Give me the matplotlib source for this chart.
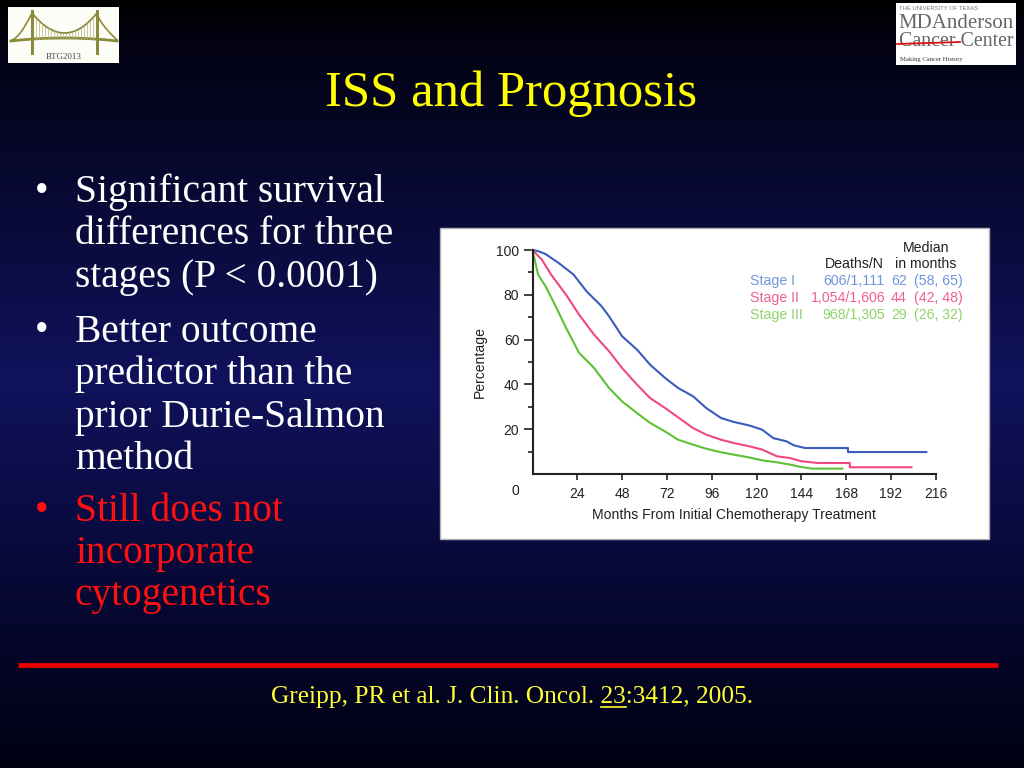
import numpy as np
import matplotlib.pyplot as plt
from matplotlib.patches import Rectangle

# Kaplan-Meier curves (months, percent surviving)
stage1_months = [0, 3, 7, 14, 22, 29, 37, 41, 48, 56, 63, 71, 78, 86, 93, 101,
                 108, 116, 123, 129, 136, 140, 146, 169, 169, 211]
stage1_pct = [100, 99.5, 98.2, 94.2, 89, 81.5, 74.9, 70.4, 61.5, 55.5, 48.8, 42.9,
              38.4, 34.7, 29.5, 25, 23.2, 21.7, 19.8, 16, 14.6, 12.8, 11.6, 11.6, 9.8, 9.8]

stage2_months = [0, 5, 10, 18, 25, 33, 41, 48, 56, 63, 71, 78, 86, 93, 101, 108,
                 116, 123, 131, 138, 144, 153, 170, 170, 203]
stage2_pct = [100, 95.7, 89, 80, 71.1, 62.2, 54.8, 47.3, 39.9, 33.9, 29.5, 25.3,
              20.5, 17.6, 15.3, 13.8, 12.4, 10.9, 7.9, 7.1, 5.7, 4.9, 4.9, 3.0, 3.0]

stage3_months = [0, 3, 7, 12, 18, 25, 33, 41, 48, 56, 63, 71, 78, 86, 93, 101,
                 108, 116, 123, 131, 138, 144, 150, 166]
stage3_pct = [100, 89, 83.8, 75.6, 65.2, 54, 47.3, 38.4, 32.4, 27.2, 22.8, 19,
              15.3, 13.1, 11.3, 9.7, 8.6, 7.4, 6.1, 5.2, 4.2, 3.1, 2.4, 2.4]

stage_names = ['Stage I', 'Stage II', 'Stage III']
deaths_n = ['606/1,111', '1,054/1,606', '968/1,305']
median_months = ['62', '44', '29']
median_ci = ['(58, 65)', '(42, 48)', '(26, 32)']
line_colors = ['#3a5cbc', '#f2477f', '#5cc234']
text_colors = ['#6e95dc', '#f0608c', '#8ed36a']

x_ticks = [24, 48, 72, 96, 120, 144, 168, 192, 216]
y_ticks = [20, 40, 60, 80, 100]

bullets_white = [
    ['Significant survival', 'differences for three', 'stages (P < 0.0001)'],
    ['Better outcome', 'predictor than the', 'prior Durie-Salmon', 'method'],
]
bullets_red = [['Still does not', 'incorporate', 'cytogenetics']]

SERIF = 'Liberation Serif'
SANS = 'Liberation Sans'
INK = '#222222'

fig = plt.figure(figsize=(10.24, 7.68), dpi=100)

# background axes in pixel coordinates
bg = fig.add_axes([0, 0, 1, 1])
bg.set_xlim(0, 1024)
bg.set_ylim(768, 0)
bg.axis('off')

rows = np.arange(768)
r = np.interp(rows, [0, 40, 380, 768], [0, 2, 16, 0])
g = np.interp(rows, [0, 40, 380, 768], [0, 2, 18, 0])
b = np.interp(rows, [0, 40, 380, 768], [0, 18, 92, 18])
grad = np.stack([r, g, b], axis=1)[:, None, :] / 255.0
grad = np.repeat(grad, 4, axis=1)
bg.imshow(grad, extent=[0, 1024, 768, 0], aspect='auto', zorder=0)

# title
bg.text(511, 106, 'ISS and Prognosis', color='#ffff00', fontsize=36.5,
        family=SERIF, ha='center', va='baseline')

# bullets
y = 202
for para in bullets_white:
    bg.text(42, y, '\u2022', color='white', fontsize=28, family=SERIF, ha='center', va='baseline')
    for line in para:
        bg.text(75, y, line, color='white', fontsize=28.4, family=SERIF, va='baseline')
        y += 42.5
    y += 12
y = 521
for para in bullets_red:
    bg.text(42, y, '\u2022', color='#ff1010', fontsize=28, family=SERIF, ha='center', va='baseline')
    for line in para:
        bg.text(75, y, line, color='#ff1010', fontsize=28.4, family=SERIF, va='baseline')
        y += 42

# red rule and citation
bg.plot([18, 998], [665, 665], color='#ee0000', lw=3.4, solid_capstyle='butt')
cite = 'Greipp, PR et al. J. Clin. Oncol. 23:3412, 2005.'
ct = bg.text(512, 703, cite, color='#ffff33', fontsize=18.3, family=SERIF,
             ha='center', va='baseline')

# white box behind the chart
bg.add_patch(Rectangle((440, 228), 549, 311, facecolor='white', edgecolor='#b0b0b0',
                       lw=1, zorder=2))

# logos
bg.add_patch(Rectangle((8, 7), 111, 56, facecolor='#fdfdf8', edgecolor='none', zorder=2))
olive = '#8c8a3c'
for tx in (32, 97):
    bg.plot([tx, tx], [11, 53], color=olive, lw=2.2, zorder=3)
cx = np.linspace(32, 97, 40)
bg.plot(cx, 13 + 20 * (1 - ((cx - 64.5) / 32.5) ** 2), color=olive, lw=1.3, zorder=3)
lx = np.linspace(12, 32, 12)
bg.plot(lx, 40 - 27 * ((lx - 12) / 20) ** 1.5, color=olive, lw=1.2, zorder=3)
rx = np.linspace(97, 117, 12)
bg.plot(rx, 13 + 27 * ((rx - 97) / 20) ** 0.7, color=olive, lw=1.2, zorder=3)
dx = np.linspace(11, 117, 50)
bg.plot(dx, 41 - 3 * (1 - ((dx - 64) / 53) ** 2), color=olive, lw=2, zorder=3)
for hx in np.arange(36, 96, 3):
    top = 13 + 20 * (1 - ((hx - 64.5) / 32.5) ** 2)
    bg.plot([hx, hx], [top, 39], color='#b8b67a', lw=0.5, zorder=3)
bg.text(64, 57, 'BTG2013', color='#444444', fontsize=6.5, family=SERIF,
        ha='center', va='center', zorder=4)

bg.add_patch(Rectangle((896, 3), 120, 62, facecolor='white', edgecolor='none', zorder=2))
bg.text(899, 8, 'THE UNIVERSITY OF TEXAS', color='#777777', fontsize=4.2, family=SANS,
        va='center', zorder=4)
bg.text(956, 24, 'MDAnderson', color='#666666', fontsize=15, family=SERIF,
        ha='center', va='center', zorder=4)
bg.text(956, 42, 'Cancer Center', color='#666666', fontsize=14.3, family=SERIF,
        ha='center', va='center', zorder=4)
bg.plot([897, 960], [44, 42], color='#dd1111', lw=1.3, zorder=5)
bg.text(900, 60, 'Making Cancer History', color='#333333', fontsize=4.8, family=SERIF,
        va='center', zorder=4)

# chart axes
W, H = 1024.0, 768.0
x0, x1 = 532.5, 935.7
y0, y1 = 474.0, 250.0
ax = fig.add_axes([x0 / W, 1 - y0 / H, (x1 - x0) / W, (y0 - y1) / H])
ax.set_facecolor('none')
ax.set_zorder(3)
ax.set_xlim(0, 216)
ax.set_ylim(0, 100)

for months, pct, col in zip([stage1_months, stage2_months, stage3_months],
                            [stage1_pct, stage2_pct, stage3_pct], line_colors):
    ax.plot(months, pct, color=col, lw=1.5, clip_on=False)

for side in ('top', 'right'):
    ax.spines[side].set_visible(False)
for side in ('left', 'bottom'):
    ax.spines[side].set_linewidth(1.5)
    ax.spines[side].set_color(INK)

ax.set_xticks(x_ticks)
ax.set_yticks(y_ticks)
ax.set_yticks([10, 30, 50, 70, 90], minor=True)
ax.tick_params(axis='both', which='major', width=1.2, color=INK,
               labelsize=10, labelcolor=INK)
ax.tick_params(axis='y', which='major', length=6.5, pad=3)
ax.tick_params(axis='y', which='minor', length=3.6, width=1.2, color=INK)
ax.tick_params(axis='x', which='major', length=4.3, pad=5)
for lab in ax.get_xticklabels() + ax.get_yticklabels():
    lab.set_family(SANS)

ax.set_xlabel('Months From Initial Chemotherapy Treatment', fontsize=10.1,
              family=SANS, color=INK, labelpad=5)
ax.set_ylabel('Percentage', fontsize=10.1, family=SANS, color=INK, labelpad=7)

# corner zero label and the little table
bg.text(515, 491, '0', fontsize=10, family=SANS, color=INK,
        ha='center', va='center', zorder=4)
bg.text(926, 248, 'Median', fontsize=10.2, family=SANS, color=INK,
        ha='center', va='center', zorder=4)
bg.text(926, 264, 'in months', fontsize=10.2, family=SANS, color=INK,
        ha='center', va='center', zorder=4)
bg.text(884, 264, 'Deaths/N', fontsize=10.2, family=SANS, color=INK,
        ha='right', va='center', zorder=4)
for i in range(3):
    yy = 281.3 + 17 * i
    kw = dict(fontsize=10.2, family=SANS, color=text_colors[i], va='center', zorder=4)
    bg.text(750, yy, stage_names[i], ha='left', **kw)
    bg.text(885, yy, deaths_n[i], ha='right', **kw)
    bg.text(891, yy, median_months[i], ha='left', **kw)
    bg.text(914, yy, median_ci[i], ha='left', **kw)

# underline the volume number in the citation
fig.canvas.draw()
rend = fig.canvas.get_renderer()
full = ct.get_window_extent(rend)
inv = bg.transData.inverted()
probe = bg.text(0, 0, 'Greipp, PR et al. J. Clin. Oncol. 23', fontsize=18.3, family=SERIF)
w_pre = probe.get_window_extent(rend).width
probe.set_text('23')
w_23 = probe.get_window_extent(rend).width
probe.remove()
left_x = inv.transform((full.x0 + w_pre - w_23, 0))[0]
right_x = inv.transform((full.x0 + w_pre, 0))[0]
bg.plot([left_x, right_x], [707, 707], color='#ffff33', lw=1.2, zorder=4)

fig.savefig('out.png', dpi=100)
